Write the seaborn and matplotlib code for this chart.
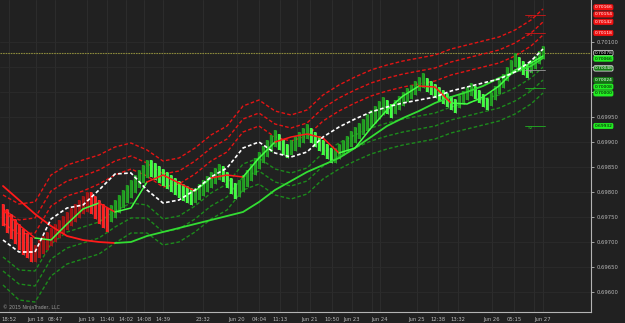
import matplotlib
matplotlib.use("Agg")
import matplotlib.pyplot as plt
import seaborn as sns
import numpy as np
import pandas as pd

# ---------------- data ----------------
bar_high = [0.69776, 0.69766, 0.69756, 0.69746, 0.69736, 0.69726, 0.69718, 0.69710,
            0.69694, 0.69704, 0.69712, 0.69720, 0.69728, 0.69736, 0.69744, 0.69752, 0.69760, 0.69768, 0.69776, 0.69784, 0.69792, 0.69800,
            0.69800, 0.69792, 0.69784, 0.69776, 0.69768,
            0.69774, 0.69784, 0.69794, 0.69804, 0.69814, 0.69824, 0.69834, 0.69844, 0.69854, 0.69864,
            0.69864, 0.69858, 0.69852, 0.69846, 0.69840, 0.69834, 0.69828, 0.69822, 0.69816, 0.69812, 0.69808,
            0.69808, 0.69816, 0.69824, 0.69832, 0.69840, 0.69848, 0.69856,
            0.69852, 0.69840, 0.69828, 0.69818,
            0.69824, 0.69834, 0.69844, 0.69856, 0.69868, 0.69880, 0.69892, 0.69904, 0.69914, 0.69924,
            0.69916, 0.69906, 0.69896,
            0.69904, 0.69912, 0.69920, 0.69928, 0.69936,
            0.69928, 0.69920, 0.69912, 0.69904, 0.69896, 0.69888,
            0.69888, 0.69896, 0.69904, 0.69912, 0.69922, 0.69930, 0.69938, 0.69946, 0.69956, 0.69964, 0.69972, 0.69982, 0.69990,
            0.69984, 0.69976,
            0.69984, 0.69992, 0.70000, 0.70008, 0.70014, 0.70022, 0.70030, 0.70038,
            0.70028, 0.70022, 0.70016, 0.70010, 0.70004, 0.69998, 0.69992, 0.69986,
            0.69994, 0.70002, 0.70010, 0.70018,
            0.70012, 0.70004, 0.69996, 0.69988,
            0.70000, 0.70012, 0.70024, 0.70036, 0.70050, 0.70064, 0.70078,
            0.70070, 0.70062, 0.70054,
            0.70064, 0.70072, 0.70082, 0.70092]
bar_low = [0.69732, 0.69718, 0.69706, 0.69696, 0.69684, 0.69674, 0.69668, 0.69660,
           0.69660, 0.69668, 0.69676, 0.69684, 0.69692, 0.69700, 0.69708, 0.69716, 0.69724, 0.69732, 0.69740, 0.69748, 0.69756, 0.69760,
           0.69756, 0.69746, 0.69736, 0.69728, 0.69720,
           0.69740, 0.69748, 0.69758, 0.69768, 0.69778, 0.69788, 0.69798, 0.69808, 0.69818, 0.69828,
           0.69830, 0.69824, 0.69818, 0.69812, 0.69806, 0.69800, 0.69794, 0.69788, 0.69782, 0.69778, 0.69774,
           0.69778, 0.69784, 0.69792, 0.69800, 0.69808, 0.69816, 0.69824,
           0.69820, 0.69808, 0.69796, 0.69786,
           0.69790, 0.69800, 0.69810, 0.69822, 0.69834, 0.69846, 0.69858, 0.69870, 0.69880, 0.69890,
           0.69884, 0.69874, 0.69868,
           0.69874, 0.69882, 0.69890, 0.69898, 0.69906,
           0.69898, 0.69890, 0.69882, 0.69874, 0.69866, 0.69858,
           0.69858, 0.69866, 0.69874, 0.69882, 0.69890, 0.69898, 0.69906, 0.69914, 0.69922, 0.69930, 0.69938, 0.69946, 0.69954,
           0.69956, 0.69948,
           0.69956, 0.69964, 0.69972, 0.69980, 0.69986, 0.69994, 0.70002, 0.70008,
           0.70000, 0.69994, 0.69988, 0.69982, 0.69976, 0.69970, 0.69964, 0.69958,
           0.69968, 0.69976, 0.69984, 0.69992,
           0.69986, 0.69978, 0.69970, 0.69964,
           0.69972, 0.69984, 0.69996, 0.70008, 0.70022, 0.70036, 0.70050,
           0.70042, 0.70034, 0.70028,
           0.70038, 0.70046, 0.70056, 0.70066]
bar_dir = (['dn'] * 8 + ['up'] * 14 + ['dn'] * 5 + ['up'] * 10 + ['dn'] * 11 + ['up'] * 7 + ['dn'] * 4
           + ['up'] * 10 + ['dn'] * 3 + ['up'] * 5 + ['dn'] * 6 + ['up'] * 13 + ['dn'] * 2 + ['up'] * 8
           + ['dn'] * 8 + ['up'] * 4 + ['dn'] * 4 + ['up'] * 7 + ['dn'] * 3 + ['up'] * 4)
bar_regime = ['bear'] * 27 + ['bull'] * 109

line_bar = [0, 4, 8, 12, 16, 20, 24, 28, 32, 36, 40, 44, 48, 52, 56, 60, 64, 68, 72, 76,
            80, 84, 88, 92, 96, 100, 104, 108, 112, 116, 120, 124, 128, 132, 135]
mid_line = [0.69704, 0.69680, 0.69680, 0.69746, 0.69768, 0.69774, 0.69804, 0.69836, 0.69838, 0.69804,
            0.69778, 0.69784, 0.69804, 0.69830, 0.69848, 0.69888, 0.69900, 0.69878, 0.69870, 0.69880,
            0.69910, 0.69930, 0.69946, 0.69960, 0.69970, 0.69978, 0.69984, 0.69990, 0.70002, 0.70010,
            0.70018, 0.70026, 0.70040, 0.70062, 0.70086]
upper1 = [0.69738, 0.69716, 0.69718, 0.69772, 0.69792, 0.69802, 0.69816, 0.69834, 0.69846, 0.69832,
          0.69810, 0.69816, 0.69836, 0.69862, 0.69880, 0.69920, 0.69932, 0.69910, 0.69902, 0.69912,
          0.69942, 0.69962, 0.69978, 0.69992, 0.70002, 0.70010, 0.70016, 0.70022, 0.70034, 0.70042,
          0.70050, 0.70058, 0.70072, 0.70092, 0.70114]
upper2 = [0.69766, 0.69744, 0.69748, 0.69802, 0.69822, 0.69832, 0.69844, 0.69862, 0.69872, 0.69858,
          0.69836, 0.69842, 0.69862, 0.69888, 0.69906, 0.69946, 0.69958, 0.69936, 0.69928, 0.69938,
          0.69968, 0.69988, 0.70004, 0.70018, 0.70028, 0.70036, 0.70042, 0.70048, 0.70060, 0.70068,
          0.70076, 0.70084, 0.70098, 0.70118, 0.70140]
upper3 = [0.69794, 0.69776, 0.69780, 0.69834, 0.69854, 0.69864, 0.69874, 0.69890, 0.69898, 0.69884,
          0.69862, 0.69868, 0.69888, 0.69914, 0.69932, 0.69972, 0.69984, 0.69962, 0.69954, 0.69964,
          0.69994, 0.70014, 0.70030, 0.70044, 0.70054, 0.70062, 0.70068, 0.70074, 0.70086, 0.70094,
          0.70102, 0.70110, 0.70124, 0.70144, 0.70166]
lower1 = [0.69670, 0.69644, 0.69642, 0.69696, 0.69720, 0.69730, 0.69740, 0.69762, 0.69778, 0.69774,
          0.69746, 0.69752, 0.69772, 0.69798, 0.69816, 0.69856, 0.69868, 0.69846, 0.69838, 0.69848,
          0.69878, 0.69898, 0.69914, 0.69928, 0.69938, 0.69946, 0.69952, 0.69958, 0.69970, 0.69978,
          0.69986, 0.69994, 0.70008, 0.70028, 0.70050]
lower2 = [0.69642, 0.69616, 0.69612, 0.69666, 0.69688, 0.69698, 0.69708, 0.69730, 0.69748, 0.69748,
          0.69720, 0.69726, 0.69746, 0.69772, 0.69790, 0.69830, 0.69842, 0.69820, 0.69812, 0.69822,
          0.69852, 0.69872, 0.69888, 0.69902, 0.69912, 0.69920, 0.69926, 0.69932, 0.69944, 0.69952,
          0.69960, 0.69968, 0.69982, 0.70002, 0.70024]
lower3 = [0.69614, 0.69584, 0.69580, 0.69632, 0.69656, 0.69666, 0.69676, 0.69698, 0.69718, 0.69718,
          0.69694, 0.69700, 0.69720, 0.69746, 0.69764, 0.69804, 0.69816, 0.69794, 0.69786, 0.69796,
          0.69826, 0.69846, 0.69862, 0.69876, 0.69886, 0.69894, 0.69900, 0.69906, 0.69918, 0.69926,
          0.69934, 0.69942, 0.69956, 0.69976, 0.69998]
slow_ma = [0.69812, 0.69784, 0.69756, 0.69732, 0.69712, 0.69704, 0.69700, 0.69698, 0.69700, 0.69712,
           0.69720, 0.69728, 0.69736, 0.69744, 0.69752, 0.69760, 0.69780, 0.69804, 0.69822, 0.69840,
           0.69854, 0.69868, 0.69888, 0.69910, 0.69932, 0.69948, 0.69962, 0.69978, 0.69990, 0.70000,
           0.70012, 0.70028, 0.70040, 0.70052, 0.70068]
slow_dir = ['dn'] * 8 + ['up'] * 27
fast_ma = [0.69764, 0.69734, 0.69708, 0.69704, 0.69736, 0.69766, 0.69778, 0.69760, 0.69768, 0.69820,
           0.69834, 0.69818, 0.69802, 0.69828, 0.69834, 0.69830, 0.69868, 0.69900, 0.69910, 0.69916,
           0.69908, 0.69878, 0.69888, 0.69928, 0.69964, 0.69992, 0.70012, 0.70010, 0.69978, 0.69976,
           0.69990, 0.70012, 0.70044, 0.70058, 0.70072]
fast_dir = ['dn', 'dn', 'dn', 'up', 'up', 'up', 'up', 'dn', 'up', 'up',
            'dn', 'dn', 'dn', 'up', 'dn', 'dn', 'up', 'up', 'dn', 'dn',
            'dn', 'dn', 'up', 'up', 'up', 'up', 'up', 'dn', 'dn', 'up',
            'up', 'up', 'up', 'up', 'up']

time_labels = ["18:52", "Jun 18", "08:47", "Jun 19", "11:40", "14:02", "14:08", "14:39", "23:32",
               "Jun 20", "04:04", "11:13", "Jun 21", "10:50", "Jun 23", "Jun 24", "Jun 25",
               "12:38", "13:32", "Jun 26", "05:15", "Jun 27"]
time_label_bar = [1.5, 8.25, 13, 21, 26, 30.75, 35.25, 40, 50, 58.5, 64, 69.25, 76.75, 82.25,
                  87.25, 94.25, 103.5, 108.75, 113.75, 122.25, 127.75, 135]
extra_tick_bar = [73.5, 92.25, 132.75]

price_ticks = [0.70100, 0.70050, 0.70000, 0.69950, 0.69900, 0.69850, 0.69800, 0.69750, 0.69700, 0.69650, 0.69600]
price_tick_shown = [True, False, False, True, True, True, True, True, True, True, True]
last_price = 0.70078
marker_prices = [0.70166, 0.70154, 0.70142, 0.70118, 0.70078, 0.70066, 0.70048, 0.70024, 0.70008, 0.70000, 0.69932]
marker_kind = ['red', 'red', 'red', 'red', 'last', 'lime', 'dkgreen_b', 'dkgreen', 'lime', 'lime', 'lime']
pivot_names = ["R2", "R1", "PP", "S1", "S2"]
pivot_prices = [0.70154, 0.70118, 0.70044, 0.70008, 0.69932]

# ---------------- style ----------------
BG = "#212121"
sns.set_theme(style="dark", rc={"axes.facecolor": BG, "figure.facecolor": BG})
plt.rcParams["font.family"] = ["DejaVu Sans"]

fig = plt.figure(figsize=(6.25, 3.23), dpi=100)
ax = fig.add_axes([0, 11 / 323, 591 / 625, 312 / 323])
ax.set_facecolor(BG)

ax.set_xlim(-0.75, 147)
ax.set_ylim(0.69560, 0.70184)

# grid
for xb in time_label_bar + extra_tick_bar:
    ax.axvline(xb, color="#2d2d2d", lw=0.7, zorder=0)
for yp in price_ticks:
    ax.axhline(yp, color="#2b2b2b", lw=0.6, zorder=0)
ax.axhline(last_price, color="#8c8a3c", lw=0.8, ls=(0, (1.5, 0.8)), zorder=1)

# bars
bars = pd.DataFrame({"bar": np.arange(len(bar_high)), "high": bar_high, "low": bar_low,
                     "dir": bar_dir, "regime": bar_regime})
col_map = {("bear", "dn"): "#ff1e1e", ("bear", "up"): "#a31212",
           ("bull", "dn"): "#3dff3d", ("bull", "up"): "#1f9c1f"}
bars["color"] = [col_map[(r, d)] for r, d in zip(bars["regime"], bars["dir"])]
ax.vlines(bars["bar"], bars["low"], bars["high"], colors=bars["color"], lw=1.7, zorder=3)
hi_col = {("bear", "dn"): "#ff5050", ("bear", "up"): "#c82020",
          ("bull", "dn"): "#7dff7d", ("bull", "up"): "#35d035"}
ax.vlines(bars["bar"] + 0.35, bars["low"], bars["high"],
          colors=[hi_col[(r, d)] for r, d in zip(bars["regime"], bars["dir"])], lw=0.5, zorder=3)

lines = pd.DataFrame({"bar": line_bar, "mid": mid_line, "u1": upper1, "u2": upper2, "u3": upper3,
                      "l1": lower1, "l2": lower2, "l3": lower3, "slow": slow_ma, "fast": fast_ma})

dash = (0, (2.6, 1.6))
for col in ["u1", "u2", "u3"]:
    sns.lineplot(data=lines, x="bar", y=col, ax=ax, color="#e31414", lw=1.0, linestyle=dash, zorder=2)
for col in ["l1", "l2", "l3"]:
    sns.lineplot(data=lines, x="bar", y=col, ax=ax, color="#1c8a1c", lw=1.0, linestyle=dash, zorder=2)


def colored_runs(col, dirs, up_c, dn_c, lw):
    n = len(lines)
    k = 0
    while k < n - 1:
        d = dirs[k + 1]
        j = k + 1
        while j + 1 < n and dirs[j + 1] == d:
            j += 1
        seg = lines.iloc[k:j + 1]
        sns.lineplot(data=seg, x="bar", y=col, ax=ax, color=up_c if d == "up" else dn_c,
                     lw=lw, zorder=4)
        k = j


colored_runs("slow", slow_dir, "#33dd33", "#ff1a1a", 1.3)
colored_runs("fast", fast_dir, "#44ff44", "#ff1a1a", 1.1)
sns.lineplot(data=lines, x="bar", y="mid", ax=ax, color="white", lw=1.2,
             linestyle=(0, (2.2, 1.4)), zorder=5)

# pivots
piv_col = {"R": "#d01818", "P": "#9a9a9a", "S": "#22b022"}
for name, p in zip(pivot_names, pivot_prices):
    c = piv_col[name[0]]
    ax.plot([130.5, 135.5], [p, p], color=c, lw=0.6, zorder=4)
    ax.text(131.2, p, name, color=c, fontsize=3.2, va="top", ha="left", zorder=6)

# axes decoration
ax.set_xlabel("")
ax.set_ylabel("")
ax.yaxis.tick_right()
ax.set_yticks(price_ticks)
ax.set_yticklabels([f"{p:.5f}" if s else "" for p, s in zip(price_ticks, price_tick_shown)])
ax.set_xticks(time_label_bar + extra_tick_bar)
ax.set_xticklabels(time_labels + [""] * len(extra_tick_bar))
ax.tick_params(axis="both", colors="#b8b8b8", labelsize=3.8, length=2, width=0.6, pad=1.5)
ax.tick_params(axis="y", pad=2)
for s in ["top", "left"]:
    ax.spines[s].set_visible(False)
for s in ["right", "bottom"]:
    ax.spines[s].set_visible(True)
    ax.spines[s].set_color("#b4b4b4")
    ax.spines[s].set_linewidth(0.8)

# price markers on right axis
mk_style = {"red": ("#f01010", "#f01010", "white"),
            "last": ("black", "white", "white"),
            "lime": ("#22ee22", "#22ee22", "black"),
            "dkgreen_b": ("#127a12", "white", "white"),
            "dkgreen": ("#127a12", "#127a12", "white")}
nudge = [1.2, 0.4, -0.6, 0, 0, 0.3, -0.3, 0, 1.0, -1.0, 0]
for p, k, dy in zip(marker_prices, marker_kind, nudge):
    fc, ec, tc = mk_style[k]
    ax.annotate(f"{p:.5f}", xy=(1.0, p), xycoords=("axes fraction", "data"),
                xytext=(2.5, dy), textcoords="offset points", fontsize=3.2, color=tc,
                va="center", ha="left", annotation_clip=False,
                bbox=dict(boxstyle="round,pad=0.15,rounding_size=0.3", fc=fc, ec=ec, lw=0.5))

fig.text(3 / 625, 1 - 307 / 323, "\u00a9 2015 NinjaTrader, LLC", color="#a0a0a0", fontsize=3.3,
         va="center", ha="left")

fig.savefig("out.png", dpi=100, facecolor=BG)
